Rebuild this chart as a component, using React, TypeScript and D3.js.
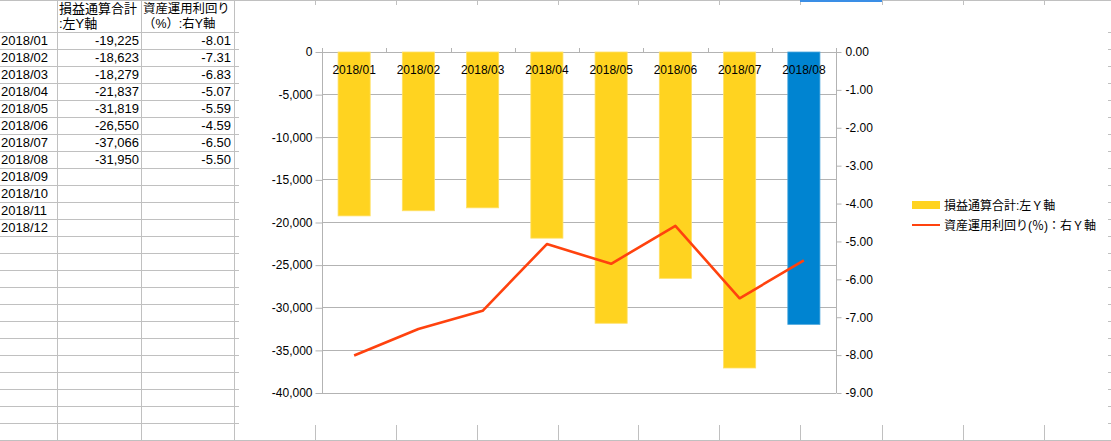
import { useEffect, useRef } from "react";
import * as d3 from "d3";

// sheet rows
const months = ["2018/01", "2018/02", "2018/03", "2018/04", "2018/05", "2018/06", "2018/07", "2018/08", "2018/09", "2018/10", "2018/11", "2018/12"];
const profitLoss = [-19225, -18623, -18279, -21837, -31819, -26550, -37066, -31950];
const yieldPct = [-8.01, -7.31, -6.83, -5.07, -5.59, -4.59, -6.5, -5.5];
const headerB = ["損益通算合計", ":左Y軸"];
const headerC = ["資産運用利回り", "（%）:右Y軸"];
const legendLabels = ["損益通算合計:左Ｙ軸", "資産運用利回り(％)：右Ｙ軸"];
const leftTicks = [0, -5000, -10000, -15000, -20000, -25000, -30000, -35000, -40000];
const rightTicks = [0, -1, -2, -3, -4, -5, -6, -7, -8, -9];

const W = 1111;
const H = 441;
const FONT = '"Liberation Sans", Arial, "Noto Sans CJK JP", sans-serif';
const GRID = "#c0c0c0";
const YELLOW = "#ffd320";
const BLUE = "#0084d1";
const ORANGE = "#ff420e";

export default function App() {
  const svgRef = useRef<SVGSVGElement>(null);

  useEffect(() => {
    if (!svgRef.current) return;
    const svg = d3.select(svgRef.current);
    svg.selectAll("*").remove();

    svg.append("rect").attr("width", W).attr("height", H).attr("fill", "#fff");

    // ---- spreadsheet grid ----
    const sheet = svg.append("g").attr("shape-rendering", "crispEdges");
    const rowLines = d3.range(0, 25).map((k) => 32.5 + 17 * k);
    sheet.selectAll("line.row").data([0.5, ...rowLines]).enter().append("line")
      .attr("x1", 0).attr("x2", W).attr("y1", (d) => d).attr("y2", (d) => d)
      .attr("stroke", GRID);
    const colLines = [57.5, 141.5, 234.5, 315.5, 396.5, 477.5, 558.5, 638.5, 719.5, 800.5, 882.5, 963.5, 1044.5];
    sheet.selectAll("line.col").data(colLines).enter().append("line")
      .attr("x1", (d) => d).attr("x2", (d) => d).attr("y1", 0).attr("y2", H)
      .attr("stroke", GRID);
    // selected cell marker
    sheet.append("line").attr("x1", 800).attr("x2", 882).attr("y1", 0.5).attr("y2", 0.5)
      .attr("stroke", "#3a8ee6").attr("stroke-width", 2);

    // table text
    const txt = svg.append("g").style("font-family", FONT).style("font-size", "13px").attr("fill", "#000");
    headerB.forEach((t, i) => txt.append("text").attr("x", 59).attr("y", 13 + i * 15).text(t));
    headerC.forEach((t, i) => txt.append("text").attr("x", 143).attr("y", 13 + i * 15).style("font-size", "12.4px").text(t));
    months.forEach((m, i) => {
      const y = 45 + 17 * i;
      txt.append("text").attr("x", 1).attr("y", y).text(m);
      if (i < profitLoss.length) {
        txt.append("text").attr("x", 139).attr("y", y).attr("text-anchor", "end").text(d3.format(",")(profitLoss[i]).replace("−", "-"));
        txt.append("text").attr("x", 231).attr("y", y).attr("text-anchor", "end").text(yieldPct[i].toFixed(2));
      }
    });

    // ---- chart object ----
    const chart = svg.append("g");
    chart.append("rect").attr("x", 239).attr("y", 5).attr("width", 869).attr("height", 420).attr("fill", "#fff");

    const x = d3.scaleBand<string>().domain(months.slice(0, profitLoss.length)).range([322, 836]).paddingInner(0.5).paddingOuter(0.25);
    const yL = d3.scaleLinear().domain([-40000, 0]).range([393, 52]);
    const yR = d3.scaleLinear().domain([-9, 0]).range([393, 52]);
    const axisColor = "#b3b3b3";

    // gridlines
    chart.append("g").attr("shape-rendering", "crispEdges")
      .selectAll("line").data(leftTicks).enter().append("line")
      .attr("x1", 322).attr("x2", 836).attr("y1", (d) => yL(d)).attr("y2", (d) => yL(d))
      .attr("stroke", axisColor);

    // bars
    chart.append("g").selectAll("rect").data(profitLoss).enter().append("rect")
      .attr("x", (_d, i) => x(months[i]) || 0)
      .attr("y", yL(0))
      .attr("width", x.bandwidth())
      .attr("height", (d) => yL(d) - yL(0))
      .attr("fill", (_d, i) => (i === profitLoss.length - 1 ? BLUE : YELLOW))
      .attr("stroke", (_d, i) => (i === profitLoss.length - 1 ? "#4aa6dd" : "#ffe066"))
      .attr("stroke-width", 0.8);

    // left axis
    const gl = chart.append("g").attr("transform", "translate(322.5,0)")
      .call(d3.axisLeft(yL).tickValues(leftTicks).tickSize(7).tickPadding(3).tickFormat((d) => d3.format(",")(d as number).replace("−", "-")));
    gl.select(".domain").attr("stroke", axisColor).attr("d", `M-0,${yL(0)}V${yL(-40000)}`);
    gl.selectAll("line").attr("stroke", axisColor);
    gl.selectAll("text").attr("fill", "#000").style("font-family", FONT).style("font-size", "12px");

    // right axis
    const gr = chart.append("g").attr("transform", "translate(836.5,0)")
      .call(d3.axisRight(yR).tickValues(rightTicks).tickSize(5).tickPadding(4).tickFormat((d) => (d as number).toFixed(2).replace("−", "-")));
    gr.select(".domain").attr("stroke", axisColor).attr("d", `M0,${yR(0)}V${yR(-9)}`);
    gr.selectAll("line").attr("stroke", axisColor);
    gr.selectAll("text").attr("fill", "#000").style("font-family", FONT).style("font-size", "12px");

    // category axis at zero, ticks upward
    const step = x.step();
    const bounds = d3.range(0, profitLoss.length + 1).map((i) => 322 + i * step);
    const ca = chart.append("g").attr("shape-rendering", "crispEdges");
    ca.selectAll("line").data(bounds).enter().append("line")
      .attr("x1", (d) => Math.round(d) + 0.5).attr("x2", (d) => Math.round(d) + 0.5)
      .attr("y1", 48).attr("y2", 52).attr("stroke", axisColor);
    chart.append("g").selectAll("text").data(months.slice(0, profitLoss.length)).enter().append("text")
      .attr("x", (d) => (x(d) || 0) + x.bandwidth() / 2)
      .attr("y", 74)
      .attr("text-anchor", "middle")
      .style("font-family", FONT).style("font-size", "12px")
      .text((d) => d);

    // line series
    const line = d3.line<number>()
      .x((_d, i) => (x(months[i]) || 0) + x.bandwidth() / 2)
      .y((d) => yR(d));
    chart.append("path").datum(yieldPct).attr("d", line)
      .attr("fill", "none").attr("stroke", ORANGE).attr("stroke-width", 2.6).attr("stroke-linejoin", "round");

    // legend
    const lg = chart.append("g").style("font-family", FONT).style("font-size", "12px");
    lg.append("rect").attr("x", 912).attr("y", 201).attr("width", 28).attr("height", 8).attr("fill", YELLOW);
    lg.append("text").attr("x", 944).attr("y", 210).text(legendLabels[0]);
    lg.append("line").attr("x1", 912).attr("x2", 940).attr("y1", 225).attr("y2", 225).attr("stroke", ORANGE).attr("stroke-width", 2);
    lg.append("text").attr("x", 944).attr("y", 230).text(legendLabels[1]);
  }, []);

  return (
    <svg ref={svgRef} width={W} height={H} style={{ position: "absolute", left: 0, top: 0, display: "block" }} />
  );
}
